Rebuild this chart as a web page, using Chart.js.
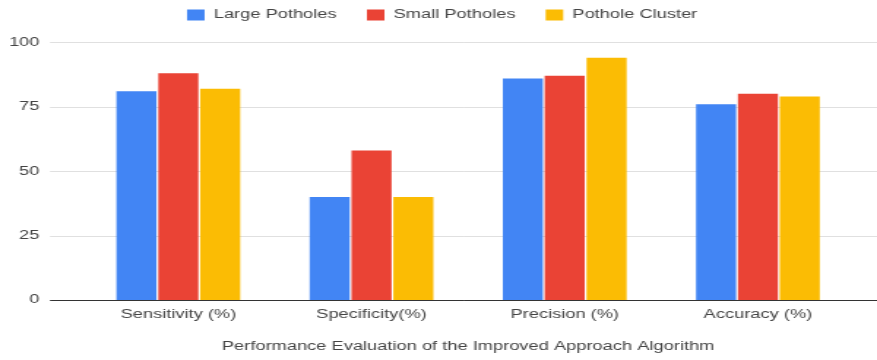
<!DOCTYPE html>
<html>
<head>
<meta charset="utf-8">
<title>Performance Evaluation of the Improved Approach Algorithm</title>
<script src="https://cdn.jsdelivr.net/npm/chart.js@4.4.1/dist/chart.umd.min.js"></script>
<style>
  html, body { margin: 0; padding: 0; background: #ffffff; overflow: hidden; }
  #wrap {
    width: 600px; height: 360px;
    transform: scaleX(1.4617);
    transform-origin: 0 0;
  }
  canvas { display: block; }
</style>
</head>
<body>
<div id="wrap"><canvas id="chart" width="600" height="360"></canvas></div>
<script>
// Metric categories along the x axis
const categories = ['Sensitivity (%)', 'Specificity(%)', 'Precision (%)', 'Accuracy (%)'];

// Scores for each pothole class (percent)
const largePotholes  = [81, 40, 86, 76];
const smallPotholes  = [88, 58, 87, 80];
const potholeCluster = [82, 40, 94, 79];

// Value axis ticks
const yTicks = [0, 25, 50, 75, 100];

const seriesNames  = ['Large Potholes', 'Small Potholes', 'Pothole Cluster'];
const seriesColors = ['#4285F4', '#EA4335', '#FBBC04'];

const FONT = "'Liberation Sans', Arial, Helvetica, sans-serif";
const TEXT = '#444444';
Chart.defaults.font.family = FONT;
Chart.defaults.color = TEXT;

// Horizontal gridlines running the full width, baseline in dark grey
function drawRule(chart, value, color) {
  const { ctx, scales: { y } } = chart;
  const py = Math.round(y.getPixelForValue(value)) + 0.5;
  ctx.save();
  ctx.strokeStyle = color;
  ctx.lineWidth = 1;
  ctx.beginPath();
  ctx.moveTo(34.2, py);
  ctx.lineTo(chart.width, py);
  ctx.stroke();
  ctx.restore();
}

const fullWidthGrid = {
  id: 'fullWidthGrid',
  beforeDatasetsDraw(chart) {
    yTicks.filter(v => v !== 0).forEach(v => drawRule(chart, v, '#e0e0e0'));
  },
  afterDatasetsDraw(chart) {
    drawRule(chart, 0, '#333333');
  }
};

const seriesValues = [largePotholes, smallPotholes, potholeCluster];

new Chart(document.getElementById('chart'), {
  type: 'bar',
  data: {
    labels: categories,
    datasets: seriesValues.map((vals, i) => ({
      label: seriesNames[i],
      data: vals,
      backgroundColor: seriesColors[i],
      borderWidth: 0,
      barPercentage: 0.957,
      categoryPercentage: 0.65
    }))
  },
  options: {
    responsive: false,
    animation: false,
    devicePixelRatio: 1,
    layout: { padding: { top: -12, left: 5, right: 0, bottom: 0 } },
    plugins: {
      legend: {
        position: 'top',
        labels: {
          boxWidth: 12,
          boxHeight: 11,
          padding: 20.7,
          color: TEXT,
          font: { size: 12.5, family: FONT }
        }
      },
      title: {
        display: true,
        text: '',
        position: 'top',
        weight: 500,
        padding: 0,
        font: { size: 11.1, lineHeight: 1 }
      },
      tooltip: { enabled: false }
    },
    scales: {
      x: {
        grid: { display: false, drawTicks: false },
        border: { display: false },
        ticks: { padding: 7.5, color: TEXT, font: { size: 12.5, family: FONT } },
        title: {
          display: true,
          text: 'Performance Evaluation of the Improved Approach Algorithm',
          color: TEXT,
          font: { size: 12.5, family: FONT },
          padding: { top: 9, bottom: 6 }
        }
      },
      y: {
        position: 'left',
        min: 0,
        max: 100,
        afterBuildTicks(scale) { scale.ticks = yTicks.map(v => ({ value: v })); },
        afterFit(scale) { scale.width = 50.9; },
        grid: { display: false, drawTicks: false },
        border: { display: false },
        ticks: { padding: 28.9, color: TEXT, font: { size: 12.5, family: FONT } }
      },
      // empty right-hand margin so the plot ends short of the gridlines
      yRight: {
        position: 'right',
        min: 0,
        max: 100,
        afterFit(scale) { scale.width = 15.4; },
        grid: { display: false, drawTicks: false },
        border: { display: false },
        ticks: { display: false }
      }
    }
  },
  plugins: [fullWidthGrid]
});
</script>
</body>
</html>
